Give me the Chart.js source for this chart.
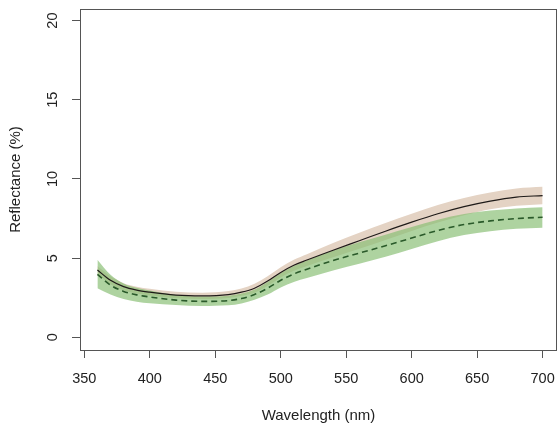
<!DOCTYPE html>
<html>
<head>
<meta charset="utf-8">
<script src="https://cdn.jsdelivr.net/npm/chart.js@4/dist/chart.umd.min.js"></script>
<style>
  html, body { margin: 0; padding: 0; background: #fff; }
  #wrap { width: 558px; height: 429px; }
</style>
</head>
<body>
<div id="wrap"><canvas id="c" width="558" height="429"></canvas></div>
<script>
// Wavelengths (nm)
const wavelengths = [360, 370, 380, 390, 400, 420, 440, 460, 470, 480, 490, 500, 510, 520, 540, 560, 580, 600, 620, 640, 660, 680, 700];
// Solid line series (mean and band)
const solidMean  = [4.25, 3.60, 3.20, 2.98, 2.85, 2.67, 2.62, 2.70, 2.85, 3.10, 3.55, 4.10, 4.55, 4.88, 5.50, 6.10, 6.70, 7.27, 7.80, 8.25, 8.60, 8.85, 8.95];
const solidUpper = [4.50, 3.85, 3.42, 3.20, 3.06, 2.87, 2.82, 2.92, 3.08, 3.38, 3.85, 4.42, 4.90, 5.25, 5.95, 6.60, 7.22, 7.80, 8.35, 8.80, 9.15, 9.40, 9.50];
const solidLower = [4.00, 3.35, 2.98, 2.76, 2.64, 2.47, 2.42, 2.48, 2.62, 2.82, 3.25, 3.78, 4.20, 4.50, 5.05, 5.60, 6.15, 6.72, 7.25, 7.70, 8.08, 8.30, 8.40];
// Dashed line series (mean and band)
const dashedMean  = [3.98, 3.30, 2.90, 2.68, 2.55, 2.35, 2.27, 2.32, 2.45, 2.70, 3.10, 3.60, 4.00, 4.30, 4.85, 5.32, 5.78, 6.27, 6.75, 7.12, 7.35, 7.50, 7.58];
const dashedUpper = [4.90, 3.95, 3.40, 3.13, 2.95, 2.68, 2.57, 2.62, 2.76, 3.02, 3.50, 4.05, 4.50, 4.85, 5.48, 6.00, 6.48, 6.96, 7.43, 7.78, 8.00, 8.14, 8.21];
const dashedLower = [3.10, 2.70, 2.42, 2.25, 2.15, 2.04, 1.98, 2.02, 2.14, 2.38, 2.70, 3.15, 3.50, 3.75, 4.22, 4.64, 5.08, 5.58, 6.07, 6.46, 6.70, 6.85, 6.92];
// Axis ticks
const xTicks = [350, 400, 450, 500, 550, 600, 650, 700];
const yTicks = [0, 5, 10, 15, 20];

const pts = arr => arr.map((v, i) => ({ x: wavelengths[i], y: v }));

const boxPlugin = {
  id: 'box',
  afterDraw(chart) {
    const { ctx, chartArea: a, scales } = chart;
    ctx.save();
    ctx.strokeStyle = '#555';
    ctx.lineWidth = 1;
    ctx.strokeRect(Math.round(a.left) + 0.5, Math.round(a.top) + 0.5,
                   Math.round(a.right - a.left) - 1, Math.round(a.bottom - a.top));
    // rotated y tick labels, positioned through the y scale
    const ys = scales.y;
    ctx.fillStyle = '#222';
    ctx.font = '14.5px "Liberation Sans", Arial, sans-serif';
    ctx.textAlign = 'center';
    ctx.textBaseline = 'middle';
    ys.ticks.forEach(t => {
      const py = ys.getPixelForValue(t.value);
      ctx.save();
      ctx.translate(53, py);
      ctx.rotate(-Math.PI / 2);
      ctx.fillText(String(t.value), 0, 0);
      ctx.restore();
    });
    ctx.restore();
  }
};

new Chart(document.getElementById('c'), {
  type: 'line',
  data: {
    datasets: [
      { label: 'solid', data: pts(solidMean), borderColor: '#1e1a18', borderWidth: 1.2, pointRadius: 0, fill: false, order: 0 },
      { label: 'dashed', data: pts(dashedMean), borderColor: '#2a5a2a', borderWidth: 1.6, borderDash: [6, 4], pointRadius: 0, fill: false, order: 1 },
      { label: 'dashedUpper', data: pts(dashedUpper), borderWidth: 0, borderColor: 'rgba(0,0,0,0)', pointRadius: 0, fill: '+1', backgroundColor: 'rgba(135,190,115,0.68)', order: 2 },
      { label: 'dashedLower', data: pts(dashedLower), borderWidth: 0, borderColor: 'rgba(0,0,0,0)', pointRadius: 0, fill: false, order: 3 },
      { label: 'solidUpper', data: pts(solidUpper), borderWidth: 0, borderColor: 'rgba(0,0,0,0)', pointRadius: 0, fill: '+1', backgroundColor: 'rgb(228,211,196)', order: 4 },
      { label: 'solidLower', data: pts(solidLower), borderWidth: 0, borderColor: 'rgba(0,0,0,0)', pointRadius: 0, fill: false, order: 5 }
    ]
  },
  options: {
    responsive: false,
    animation: false,
    events: [],
    elements: { line: { tension: 0.4, cubicInterpolationMode: 'monotone' } },
    layout: { padding: { top: 9, right: 1, left: 0, bottom: 0 } },
    plugins: { legend: { display: false }, tooltip: { enabled: false } },
    scales: {
      x: {
        type: 'linear',
        min: 346.7, max: 711,
        afterBuildTicks: s => { s.ticks = xTicks.map(v => ({ value: v })); },
        afterFit: s => { s.height = 79; s.paddingLeft = 0; s.paddingRight = 0; },
        border: { display: false },
        grid: { drawOnChartArea: false, drawTicks: true, tickLength: 8, color: '#555', lineWidth: 1 },
        ticks: { color: '#222', font: { family: '"Liberation Sans", Arial, sans-serif', size: 14.5 }, padding: 12, maxRotation: 0 },
        title: { display: true, text: 'Wavelength (nm)', color: '#222', font: { family: '"Liberation Sans", Arial, sans-serif', size: 15 }, padding: { top: 4, bottom: 4 } }
      },
      y: {
        type: 'linear',
        min: -0.8, max: 20.73,
        afterBuildTicks: s => { s.ticks = yTicks.map(v => ({ value: v })); },
        afterFit: s => { s.width = 80; s.paddingTop = 0; s.paddingBottom = 0; },
        border: { display: false },
        grid: { drawOnChartArea: false, drawTicks: true, tickLength: 8, color: '#555', lineWidth: 1 },
        ticks: { display: false },
        title: { display: true, text: 'Reflectance (%)', color: '#222', font: { family: '"Liberation Sans", Arial, sans-serif', size: 15 }, padding: { top: 7, bottom: 0 } }
      }
    }
  },
  plugins: [boxPlugin]
});
</script>
</body>
</html>
